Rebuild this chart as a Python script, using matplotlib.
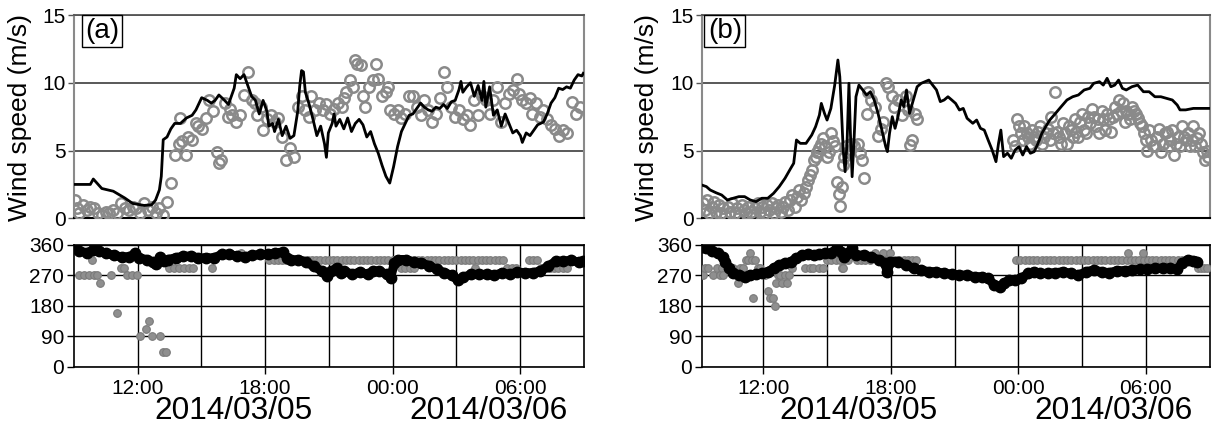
import matplotlib
matplotlib.use('Agg')
import matplotlib.pyplot as plt
from matplotlib.transforms import blended_transform_factory

plt.rcParams['font.family'] = ['Liberation Sans', 'DejaVu Sans']

# x values: hours after 2014/03/05 09:00
tick_hours = [3, 9, 15, 21]
tick_labels = ['12:00', '18:00', '00:00', '06:00']
grid_hours = [3, 6, 9, 12, 15, 18, 21]
date_hours = [7.5, 19.5]
date_labels = ['2014/03/05', '2014/03/06']
speed_ticks = [0, 5, 10, 15]
dir_ticks = [0, 90, 180, 270, 360]

# ---- panel (a) ----
a_model_t = [0.00, 0.78, 0.92, 1.32, 1.86, 2.40, 2.77, 3.31, 3.67, 3.85, 4.03, 4.12, 4.21, 4.39,
             4.57, 4.75, 5.02, 5.30, 5.57, 5.75, 6.02, 6.29, 6.47, 6.65, 6.83, 7.10, 7.28, 7.55,
             7.65, 7.83, 8.01, 8.19, 8.37, 8.55, 8.73, 8.91, 9.09, 9.18, 9.36, 9.45, 9.63, 9.81,
             9.99, 10.18, 10.36, 10.54, 10.63, 10.72, 10.81, 10.90, 11.08, 11.26, 11.44, 11.62,
             11.80, 11.89, 11.98, 12.16, 12.25, 12.34, 12.52, 12.71, 12.89, 13.07, 13.25, 13.43,
             13.61, 13.79, 13.97, 14.15, 14.33, 14.51, 14.69, 14.87, 15.05, 15.24, 15.42, 15.60,
             15.78, 15.96, 16.14, 16.32, 16.50, 16.68, 16.86, 17.04, 17.22, 17.40, 17.58, 17.77,
             17.95, 18.13, 18.22, 18.31, 18.49, 18.67, 18.85, 19.03, 19.21, 19.30, 19.39, 19.57,
             19.75, 19.93, 20.12, 20.30, 20.48, 20.66, 20.84, 21.02, 21.11, 21.29, 21.47, 21.65,
             21.83, 22.10, 22.28, 22.46, 22.64, 22.82, 23.01, 23.19, 23.37, 23.55, 23.73, 23.91, 23.98]
a_model_spd = [2.5, 2.5, 2.9, 2.2, 2.0, 1.5, 1.1, 0.95, 1.0, 1.35, 2.1, 3.1, 5.8, 6.0,
               6.6, 7.0, 7.0, 7.4, 7.6, 8.0, 8.9, 8.7, 8.5, 8.7, 9.1, 8.7, 8.4, 9.6,
               10.6, 10.3, 10.6, 9.8, 9.0, 8.7, 7.7, 8.7, 7.9, 6.8, 7.0, 6.4, 7.3, 6.1,
               6.8, 5.9, 6.1, 7.9, 9.7, 10.9, 10.8, 9.3, 8.4, 7.3, 6.1, 6.8,
               5.5, 4.5, 6.3, 7.0, 7.7, 6.8, 7.3, 6.6, 7.4, 6.4, 7.0, 7.3,
               6.9, 6.0, 6.4, 5.5, 4.8, 3.9, 3.1, 2.6, 3.8, 5.3, 6.4, 7.0,
               7.6, 7.7, 8.1, 8.5, 8.2, 8.0, 7.9, 8.2, 8.1, 8.4, 8.1, 8.6,
               8.7, 9.5, 10.1, 9.3, 9.7, 10.0, 9.0, 9.8, 8.7, 10.1, 8.2, 9.7,
               7.6, 8.0, 6.8, 7.7, 7.0, 6.3, 6.5, 6.1, 5.6, 6.3, 6.1, 6.5,
               6.9, 7.1, 7.7, 8.5, 8.9, 9.6, 9.5, 9.7, 9.6, 10.2, 10.6, 10.5, 10.7]

a_obs_t = [0.05, 0.14, 0.23, 0.42, 0.60, 0.78, 0.96, 1.14, 1.32, 1.50, 1.68, 1.86, 2.04, 2.22,
           2.40, 2.58, 2.77, 2.95, 3.13, 3.31, 3.49, 3.67, 3.85, 4.03, 4.21, 4.39, 4.57, 4.75,
           4.93, 5.02, 5.11, 5.30, 5.39, 5.57, 5.75, 5.84, 6.02, 6.20, 6.38, 6.56, 6.74, 6.83,
           6.92, 7.10, 7.28, 7.37, 7.46, 7.65, 7.83, 8.01, 8.19, 8.37, 8.55, 8.64, 8.82, 8.91,
           9.09, 9.27, 9.45, 9.63, 9.81, 9.99, 10.18, 10.36, 10.54, 10.72, 10.90, 11.08, 11.17,
           11.35, 11.53, 11.71, 11.89, 12.07, 12.25, 12.43, 12.62, 12.71, 12.80, 12.98, 13.16,
           13.25, 13.34, 13.52, 13.61, 13.70, 13.88, 14.06, 14.24, 14.33, 14.51, 14.69, 14.78,
           14.87, 15.05, 15.24, 15.42, 15.60, 15.78, 15.96, 16.14, 16.32, 16.50, 16.68, 16.86,
           17.04, 17.22, 17.40, 17.58, 17.77, 17.95, 18.13, 18.31, 18.49, 18.67, 18.85, 19.03,
           19.21, 19.39, 19.57, 19.75, 19.93, 20.12, 20.30, 20.48, 20.66, 20.84, 20.93, 21.11,
           21.29, 21.47, 21.56, 21.75, 21.93, 22.10, 22.28, 22.46, 22.64, 22.82, 23.01, 23.19,
           23.46, 23.64, 23.82]
a_obs_spd = [1.35, 0.74, 0.37, 1.0, 0.6, 0.86, 0.74, 0.37, 0.25, 0.5, 0.37, 0.6, 0.37, 1.1,
             0.74, 0.6, 0.86, 0.74, 0.37, 1.1, 0.6, 0.86, 0.37, 0.74, 0.25, 1.23, 2.6, 4.7,
             5.5, 7.4, 5.7, 4.7, 6.0, 5.8, 7.0, 6.8, 6.6, 7.4, 8.7, 7.9, 4.9, 4.1,
             4.3, 8.5, 7.5, 8.1, 7.6, 7.1, 7.6, 9.1, 10.8, 8.7, 8.5, 7.6, 8.2, 6.5,
             7.3, 7.6, 7.1, 7.4, 6.0, 4.3, 5.2, 4.5, 8.2, 9.0, 8.0, 7.5, 9.0,
             8.0, 8.5, 8.0, 8.4, 7.7, 8.1, 8.5, 8.2, 8.9, 9.3, 10.2, 9.7,
             11.7, 11.4, 11.3, 9.0, 8.2, 9.7, 10.2, 11.4, 10.3, 9.0, 9.3, 9.7,
             8.0, 7.7, 8.0, 7.4, 7.7, 9.0, 9.0, 8.2, 7.6, 8.7, 8.0, 7.1,
             7.7, 8.9, 10.8, 9.7, 8.2, 7.5, 8.0, 7.3, 7.6, 6.9, 8.7, 7.6,
             9.0, 8.7, 7.7, 8.7, 9.7, 7.1, 8.5, 9.2, 9.5, 10.3, 9.2, 8.7,
             8.5, 8.9, 7.7, 8.5, 7.5, 8.0, 7.3, 6.9, 6.6, 6.1, 6.5, 6.3,
             8.6, 7.7, 8.2]

a_model_dir_t = [0.04, 0.27, 0.63, 0.90, 1.17, 1.54, 1.90, 2.26, 2.62, 2.89, 3.07, 3.43, 3.71,
                 3.89, 4.07, 4.25, 4.43, 4.79, 5.15, 5.51, 5.87, 6.24, 6.60, 6.96, 7.32, 7.68,
                 8.04, 8.40, 8.76, 9.13, 9.49, 9.85, 10.03, 10.21, 10.57, 10.93, 11.30, 11.66,
                 11.93, 12.11, 12.38, 12.56, 12.74, 13.10, 13.46, 13.83, 14.10, 14.37, 14.73,
                 14.91, 15.09, 15.27, 15.63, 15.99, 16.36, 16.72, 17.08, 17.44, 17.80, 18.07,
                 18.34, 18.71, 19.07, 19.43, 19.79, 20.15, 20.51, 20.87, 21.24, 21.60, 21.96,
                 22.32, 22.68, 23.04, 23.40, 23.77, 23.95]
a_model_dir = [352, 342, 337, 345, 342, 335, 329, 325, 325, 335, 322, 317, 309,
               305, 325, 312, 317, 322, 327, 327, 322, 322, 322, 332, 332, 327,
               325, 329, 332, 332, 337, 339, 322, 315, 317, 309, 297, 283,
               268, 283, 292, 278, 283, 273, 280, 273, 283, 283, 273,
               263, 307, 317, 317, 309, 307, 299, 288, 278, 270, 256,
               265, 273, 273, 273, 270, 278, 273, 280, 278, 278, 283,
               297, 312, 312, 315, 309, 312]

a_obs_dir_t = [0.24, 0.47, 0.71, 0.87, 0.94, 1.10, 1.22, 1.73, 2.04, 2.20, 2.35, 2.51, 2.75,
               2.98, 3.11, 3.38, 3.53, 3.69, 4.05, 4.21, 4.36, 4.47, 4.71, 4.94, 5.18, 5.41,
               5.62, 6.52, 7.85,
               9.2, 9.4, 9.6, 9.8, 10.0, 10.2, 10.4, 10.6, 10.8, 11.0, 11.2, 11.4, 11.6, 11.8,
               12.0, 12.2, 12.4, 12.6, 12.8, 13.0, 13.2, 13.4, 13.6, 13.8, 14.0, 14.2, 14.4,
               14.6, 14.8, 15.0,
               15.2, 15.4, 15.6, 15.8, 16.0, 16.2, 16.4, 16.6, 16.8, 17.0, 17.2, 17.4, 17.6,
               17.8, 18.0, 18.2, 18.4, 18.6, 18.8, 19.0, 19.2, 19.4, 19.6, 19.8, 20.0, 20.2,
               21.4, 21.6, 21.8,
               15.4, 15.6, 15.8, 16.0, 18.9, 20.4, 20.6, 20.8, 22.0, 22.2, 22.4, 22.6, 22.8,
               23.0, 23.2]
a_obs_dir = [270, 270, 270, 315, 270, 270, 247.5, 270, 157.5, 292.5, 292.5, 270, 270,
             270, 90, 112.5, 135, 90, 90, 45, 45, 292.5, 292.5, 292.5, 292.5, 292.5,
             292.5, 292.5, 337.5,
             315, 315, 315, 315, 315, 315, 315, 315, 315, 315, 315, 315, 315, 315,
             315, 315, 315, 315, 315, 315, 315, 315, 315, 315, 315, 315, 315,
             315, 315, 315,
             315, 315, 315, 315, 315, 315, 315, 315, 315, 315, 315, 315, 315,
             315, 315, 315, 315, 315, 315, 315, 315, 315, 315, 315, 315, 315,
             315, 315, 315,
             292.5, 292.5, 292.5, 292.5, 292.5, 292.5, 292.5, 292.5, 292.5, 292.5, 292.5, 292.5, 292.5,
             292.5, 292.5]

# ---- panel (b) ----
b_model_t = [0.10, 0.32, 0.50, 0.77, 1.04, 1.31, 1.58, 1.85, 2.12, 2.39, 2.66, 2.93, 3.21,
             3.48, 3.75, 4.02, 4.29, 4.43, 4.56, 4.74, 5.01, 5.28, 5.46, 5.64, 5.73, 5.88,
             6.00, 6.18, 6.36, 6.51, 6.60, 6.67, 6.76, 6.85, 6.94, 7.03, 7.10, 7.18, 7.27,
             7.36, 7.50, 7.68, 7.86, 8.04, 8.22, 8.40, 8.58, 8.76, 8.84, 8.94, 9.07, 9.20,
             9.34, 9.49, 9.61, 9.74, 9.88, 10.06, 10.24, 10.43, 10.61, 10.79, 10.97, 11.15,
             11.33, 11.51, 11.69, 11.87, 12.05, 12.23, 12.41, 12.59, 12.86, 13.04, 13.22,
             13.40, 13.58, 13.77, 13.95, 14.07, 14.18, 14.31, 14.49, 14.67, 14.85, 15.03,
             15.21, 15.39, 15.57, 15.75, 15.93, 16.11, 16.29, 16.48, 16.75, 17.02, 17.29,
             17.56, 17.83, 18.10, 18.37, 18.55, 18.82, 19.00, 19.18, 19.36, 19.54, 19.72,
             19.90, 20.08, 20.35, 20.62, 20.89, 21.16, 21.43, 21.71, 21.98, 22.25, 22.48,
             22.61, 22.88, 23.24, 23.69, 23.96]
b_model_spd = [2.46, 2.34, 2.09, 1.89, 1.72, 1.35, 1.48, 1.6, 1.6, 1.35, 1.23, 1.48, 1.48,
               1.84, 2.34, 2.95, 3.69, 4.06, 5.78, 5.53, 5.53, 6.15, 6.76, 7.62, 8.48, 7.74,
               7.25, 8.11, 9.83, 11.68, 10.45, 8.24, 5.04, 3.44, 5.53, 9.96, 6.27, 3.07, 5.78,
               8.97, 9.83, 9.47, 9.1, 9.34, 8.73, 7.74, 6.51, 5.29, 4.92, 6.27, 7.5, 6.64,
               7.5, 8.73, 8.24, 9.47, 7.74, 8.73, 9.71, 9.96, 10.08, 10.2, 9.83, 9.47,
               8.61, 8.73, 8.97, 8.73, 8.48, 7.99, 8.11, 7.38, 7.01, 7.25, 6.64,
               6.51, 5.78, 5.04, 4.18, 5.53, 6.51, 4.55, 4.80, 4.43, 5.04, 5.29,
               4.67, 5.29, 4.80, 4.92, 5.53, 6.27, 6.76, 7.25, 7.74, 8.24, 8.73,
               8.97, 9.1, 9.47, 9.59, 9.96, 10.08, 9.83, 10.33, 9.71, 9.83, 10.2,
               9.59, 9.47, 9.71, 9.83, 9.34, 9.34, 8.97, 8.97, 8.85, 8.73, 8.36,
               8.0, 8.0, 8.11, 8.11, 8.11]

b_obs_t = [0.14, 0.24, 0.35, 0.46, 0.57, 0.68, 0.79, 0.90, 1.00, 1.11, 1.22, 1.33, 1.44, 1.54,
           1.65, 1.76, 1.87, 1.98, 2.09, 2.19, 2.30, 2.41, 2.52, 2.63, 2.74, 2.84, 2.95, 3.06,
           3.17, 3.28, 3.39, 3.49, 3.60, 3.71, 3.82, 3.93, 4.04, 4.14, 4.25, 4.36, 4.47, 4.58,
           4.69, 4.79, 4.90, 5.01, 5.10, 5.19, 5.28, 5.37, 5.46, 5.55, 5.64, 5.73, 5.82, 5.91,
           6.00, 6.09, 6.18, 6.27, 6.36, 6.45, 6.54, 6.60, 6.69, 6.73, 6.82, 6.91, 7.00, 7.14,
           7.27, 7.45, 7.54, 7.63, 7.75, 7.86, 7.93, 8.08, 8.26, 8.40, 8.53, 8.62, 8.77, 8.89,
           9.07, 9.16, 9.34, 9.52, 9.71, 9.80, 9.89, 9.98, 10.16, 10.25,
           14.76, 14.84, 14.93, 15.02, 15.11, 15.20, 15.29, 15.39, 15.48, 15.57, 15.66, 15.75,
           15.84, 15.93, 16.02, 16.11, 16.20, 16.29, 16.38, 16.47, 16.56, 16.65, 16.71, 16.83,
           16.92, 17.01, 17.10, 17.19, 17.28, 17.37, 17.46, 17.56, 17.65, 17.74, 17.83, 17.92,
           18.01, 18.10, 18.19, 18.28, 18.37, 18.46, 18.55, 18.64, 18.73, 18.82, 18.92, 19.01,
           19.10, 19.19, 19.28, 19.37, 19.46, 19.55, 19.64, 19.73, 19.82, 19.91, 20.00, 20.09,
           20.18, 20.27, 20.36, 20.45, 20.54, 20.63, 20.72, 20.81, 20.90, 20.99, 21.08, 21.17,
           21.26, 21.35, 21.44, 21.53, 21.62, 21.71, 21.80, 21.89, 21.98, 22.07, 22.16, 22.25,
           22.34, 22.43, 22.53, 22.62, 22.71, 22.80, 22.89, 22.98, 23.07, 23.16, 23.24, 23.33,
           23.42, 23.51, 23.60, 23.69, 23.78, 23.87, 23.93]
b_obs_spd = [1.1, 0.6, 1.35, 0.4, 0.86, 1.23, 0.5, 1.0, 0.4, 0.74, 0.25, 0.86, 0.5, 1.1,
             0.4, 0.74, 0.25, 1.0, 0.6, 0.4, 0.86, 0.5, 0.25, 0.74, 1.1, 0.5, 0.86, 0.4,
             1.0, 0.6, 1.1, 0.4, 0.74, 1.0, 0.5, 0.86, 1.23, 0.6, 1.35, 1.72, 0.86, 1.6,
             2.1, 1.35, 1.84, 2.3, 2.8, 3.2, 3.6, 4.3, 4.5, 4.9, 5.2, 5.5, 5.9, 5.3,
             4.5, 4.9, 6.3, 5.7, 5.3, 2.7, 1.8, 0.9, 2.3, 3.9, 4.5, 5.3, 4.9, 5.5,
             5.3, 5.5, 4.8, 4.3, 2.95, 7.7, 9.3, 8.7, 8.2, 6.1, 6.6, 7.1, 10.0, 9.7,
             9.0, 8.2, 8.7, 7.6, 9.0, 8.0, 5.4, 5.8, 7.7, 7.3,
             5.8, 5.3, 7.3, 6.8, 6.3, 5.8, 6.8, 6.3, 6.0, 5.5, 6.5, 6.0,
             5.8, 6.4, 6.8, 5.5, 6.0, 6.3, 6.6, 5.8, 7.5, 6.3, 9.3, 6.4,
             6.0, 5.5, 7.0, 6.3, 5.5, 6.8, 6.5, 6.0, 7.3, 6.4, 6.0, 7.1,
             7.7, 6.5, 6.3, 7.5, 7.0, 8.1, 7.5, 6.8, 7.3, 6.3, 7.9, 7.3,
             6.5, 7.7, 7.3, 6.4, 7.5, 8.2, 7.7, 8.7, 7.9, 8.5, 7.1, 7.9,
             7.7, 7.3, 8.2, 7.9, 7.7, 7.4, 7.0, 6.8, 6.3, 5.8, 5.0, 6.5,
             5.8, 5.3, 5.3, 6.0, 6.6, 4.9, 5.5, 6.3, 6.4, 5.3, 5.8, 6.5,
             4.7, 5.5, 6.0, 5.3, 6.8, 6.0, 5.8, 6.3, 5.3, 5.8, 6.8, 5.3,
             5.9, 6.3, 5.5, 4.9, 4.3, 5.0, 4.5]

b_model_dir_t = [0.10, 0.32, 0.59, 0.86, 1.08, 1.22, 1.40, 1.58, 1.85, 2.12, 2.39, 2.66, 2.93,
                 3.21, 3.48, 3.75, 4.02, 4.29, 4.56, 4.83, 5.10, 5.37, 5.64, 5.91, 6.18, 6.45,
                 6.64, 6.82, 7.00, 7.18, 7.36, 7.72, 8.08, 8.44, 8.71, 8.84, 8.98, 9.34, 9.70,
                 10.07, 10.43, 10.79, 11.15, 11.51, 11.87, 12.23, 12.59, 12.95, 13.31, 13.58,
                 13.86, 14.13, 14.31, 14.58, 14.85, 15.12, 15.48, 15.75, 16.02, 16.38, 16.75,
                 17.11, 17.47, 17.83, 18.19, 18.55, 18.92, 19.28, 19.64, 20.00, 20.35, 20.71,
                 21.08, 21.44, 21.80, 22.16, 22.48, 22.70, 22.97, 23.24, 23.42]
b_model_dir = [355, 350, 343, 335, 325, 311, 291, 276, 271, 266, 271, 274, 276,
               281, 291, 301, 306, 311, 321, 330, 333, 330, 333, 335, 335, 350,
               340, 325, 335, 350, 330, 330, 325, 316, 306, 281, 311, 311, 301,
               291, 286, 281, 281, 276, 274, 271, 271, 266, 266, 262,
               242, 237, 247, 256, 256, 261, 276, 281, 276, 276, 278,
               281, 276, 271, 281, 286, 281, 278, 284, 284, 286, 288,
               288, 291, 291, 291, 288, 306, 316, 314, 311]

b_obs_dir_t = [0.15, 0.26, 0.42, 0.65, 0.81, 0.97, 1.05, 1.12, 1.59, 1.80, 1.91, 2.06, 2.19,
               2.30, 2.38, 2.46, 2.53, 2.61, 2.77, 2.85, 3.08, 3.21, 3.31, 3.44, 3.55, 3.60,
               3.70, 3.78, 3.86, 4.02, 4.10, 4.22, 4.33, 4.96, 5.19, 5.35,
               5.6, 5.8, 6.0, 6.2, 6.4, 6.6, 6.7, 6.76, 6.8, 7.0, 7.2, 7.4, 7.6, 7.8, 8.0, 8.24,
               8.48, 8.63, 8.8, 8.98, 9.2, 9.4, 9.6, 9.8, 10.0, 10.2,
               14.9, 15.1, 15.3, 15.5, 15.7, 15.9, 16.1, 16.3, 16.5, 16.7, 16.9, 17.1, 17.3,
               17.5, 17.7, 17.9, 18.1, 18.3, 18.5, 18.7, 18.9, 19.1, 19.3, 19.5, 19.7, 19.9,
               20.1, 20.3, 20.5, 20.7, 20.9, 21.1, 21.3, 21.5, 21.7, 21.9, 22.1, 22.3, 22.5,
               22.7, 22.9, 23.1, 23.3, 20.17, 20.88, 23.45, 23.6, 23.75, 23.9]
b_obs_dir = [270, 292.5, 292.5, 270, 292.5, 270, 292.5, 270, 292.5, 247.5, 292.5, 292.5, 315,
             315, 337.5, 315, 202.5, 315, 292.5, 292.5, 270, 225, 202.5, 202.5, 180, 247.5,
             270, 270, 247.5, 270, 247.5, 270, 292.5, 292.5, 292.5, 292.5,
             292.5, 292.5, 315, 315, 315, 315, 292.5, 292.5, 315, 315, 337.5, 315, 315, 315, 315, 337.5,
             315, 337.5, 315, 337.5, 315, 315, 315, 315, 315, 315,
             315, 315, 315, 315, 315, 315, 315, 315, 315, 315, 315, 315, 315,
             315, 315, 315, 315, 315, 315, 315, 315, 315, 315, 315, 315, 315,
             315, 315, 315, 315, 315, 315, 315, 315, 315, 315, 315, 315, 315,
             315, 315, 315, 315, 337.5, 337.5, 292.5, 292.5, 292.5, 292.5]

fig = plt.figure(figsize=(12.14, 4.24), dpi=100)


def draw_panel(left, width, x0, letter, letter_x, label_x,
               mt, mspd, ot, ospd, mdt, mdir, odt, odir):
    ax1 = fig.add_axes([left, 0.4851, width, 0.4795])
    ax2 = fig.add_axes([left, 0.1351, width, 0.2871])

    # wind speed
    ax1.plot(ot, ospd, 'o', ms=7.5, mfc='none', mec='#8a8a8a', mew=1.8, zorder=3)
    ax1.plot(mt, mspd, '-', color='black', lw=2, zorder=4)
    ax1.set_xlim(x0, 24)
    ax1.set_ylim(0, 15)
    ax1.set_xticks([])
    ax1.set_yticks(speed_ticks)
    ax1.yaxis.grid(True, color='#3c3c3c', lw=1.2)
    ax1.set_axisbelow(True)
    for s in ['left', 'right']:
        ax1.spines[s].set_color('#8a8a8a')
        ax1.spines[s].set_linewidth(1.5)
    ax1.spines['top'].set_color('#555555')
    ax1.spines['top'].set_linewidth(1.3)
    ax1.spines['bottom'].set_linewidth(1.5)
    ax1.tick_params(axis='y', length=4, width=1, pad=1.5, labelsize=15, color='#555555')
    ax1.text(letter_x, 0.985, letter, transform=ax1.transAxes, ha='left', va='top',
             fontsize=20, bbox=dict(boxstyle='square,pad=0.12', fc='white', ec='black', lw=1))
    fig.text(label_x, 0.723, 'Wind speed (m/s)', rotation=90, ha='center', va='center',
             fontsize=19)

    # wind direction
    ax2.plot(odt, odir, 'o', ms=5.5, color='#8f8f8f', mec='#7a7a7a', mew=0.8, zorder=3)
    ax2.plot(mdt, mdir, '-o', color='black', lw=6.5, ms=7.5, zorder=4,
             solid_capstyle='round', solid_joinstyle='round')
    ax2.set_xlim(x0, 24)
    ax2.set_ylim(0, 360)
    ax2.set_yticks(dir_ticks)
    ax2.set_xticks(tick_hours, tick_labels)
    ax2.set_xticks(grid_hours, minor=True)
    ax2.grid(True, which='both', color='black', lw=1)
    ax2.set_axisbelow(True)
    for s in ax2.spines.values():
        s.set_linewidth(1.2)
    ax2.tick_params(axis='both', which='major', length=5, width=1, pad=2, labelsize=15)
    ax2.tick_params(axis='x', which='major', pad=4)
    ax2.tick_params(which='minor', length=0)

    trans = blended_transform_factory(ax2.transData, fig.transFigure)
    for h, lab in zip(date_hours, date_labels):
        ax2.text(h, 0.012, lab, transform=trans, ha='center', va='baseline', fontsize=22.7)


draw_panel(0.06075, 0.4201, 0.0, '(a)', 0.022, 20 / 1214,
           a_model_t, a_model_spd, a_obs_t, a_obs_spd,
           a_model_dir_t, a_model_dir, a_obs_dir_t, a_obs_dir)
draw_panel(0.5780, 0.4183, 0.1, '(b)', 0.012, 647 / 1214,
           b_model_t, b_model_spd, b_obs_t, b_obs_spd,
           b_model_dir_t, b_model_dir, b_obs_dir_t, b_obs_dir)

fig.savefig('out.png', dpi=100)
